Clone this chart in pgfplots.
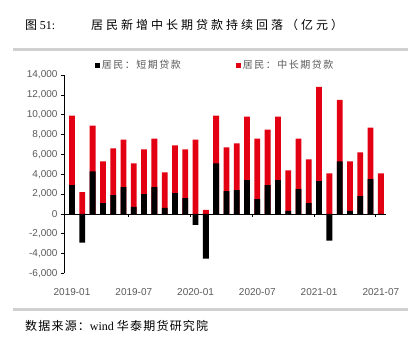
\documentclass[border=0pt]{standalone}
\usepackage{pgfplots}
\usepackage{pgfplotstable}
\pgfplotsset{compat=1.18}
\usepackage{fontspec}
\setmainfont{Liberation Serif}
\newfontfamily\numfont{Liberation Sans}
\newfontfamily\song{Noto Sans CJK SC}
\newfontfamily\songsrc[LetterSpace=10]{Noto Sans CJK SC}
\newfontfamily\songtitle[LetterSpace=25]{Noto Sans CJK SC}
\newfontfamily\songleg[LetterSpace=15]{Noto Sans CJK SC}
\definecolor{barred}{RGB}{226,0,18}
\definecolor{txtgray}{RGB}{89,89,89}
\definecolor{linegray}{RGB}{208,208,208}

% x: month index from 2019-01; st: short-term; lt: medium/long-term (100 million yuan)
\pgfplotstableread{
x st lt
0 2900 7000
1 -2900 2200
2 4300 4600
3 1100 4200
4 1900 4700
5 2700 4800
6 700 4400
7 2000 4500
8 2700 4900
9 600 3600
10 2100 4800
11 1600 4900
12 -1100 7500
13 -4500 400
14 5100 4800
15 2300 4400
16 2400 4700
17 3400 6400
18 1500 6100
19 2900 5600
20 3400 6400
21 300 4100
22 2500 5100
23 1100 4400
24 3300 9500
25 -2700 4100
26 5300 6200
27 300 5000
28 1800 4400
29 3500 5200
30 -100 4100
}\loandata

\begin{document}
\begin{tikzpicture}
\path[use as bounding box] (0pt,0pt) rectangle (408pt,340pt);
% title
\node[anchor=west, inner sep=0pt] at (25pt,315pt) {\song\fontsize{12}{14}\selectfont 图 \rmfamily 51:};
\node[anchor=west, inner sep=0pt] at (91pt,315pt) {\songtitle\fontsize{12}{14}\selectfont 居民新增中长期贷款持续回落（亿元）};
\draw[linegray, line width=3pt] (13pt,290pt) -- (408pt,290pt);
\draw[linegray, line width=3pt] (13pt,30pt) -- (408pt,30pt);
\node[anchor=west, inner sep=0pt] at (25pt,14pt) {\songsrc\fontsize{12}{14}\selectfont 数据来源：\rmfamily wind \songsrc 华泰期货研究院};

\begin{axis}[
  at={(64pt,66.5pt)}, anchor=south west,
  scale only axis, width=322pt, height=198.5pt,
  xmin=-0.78, xmax=30.5, ymin=-6000, ymax=14000,
  axis x line*=bottom, axis y line*=left,
  x axis line style={draw=none},
  y axis line style={black, line width=0.8pt},
  xtick={0,6,12,18,24,30},
  xticklabels={2019-01,2019-07,2020-01,2020-07,2021-01,2021-07},
  major x tick style={draw=none},
  ytick={-6000,-4000,...,14000},
  scaled y ticks=false,
  tick align=outside, major tick length=3pt,
  major y tick style={black, line width=0.6pt},
  yticklabel style={font=\numfont\fontsize{10}{12}\selectfont, text=txtgray,
    /pgf/number format/.cd, fixed, 1000 sep={,}, assume math mode=true},
  xticklabel style={font=\numfont\fontsize{10}{12}\selectfont, text=txtgray, yshift=-8pt},
  legend columns=2,
  reverse legend,
  legend style={draw=none, fill=none, at={(0.095,1.05)}, anchor=west,
    font=\songleg\fontsize{10}{12}\selectfont, text=txtgray, inner sep=0pt,
    /tikz/every even column/.append style={column sep=53pt}},
  clip=false,
]
\addplot[ybar, bar width=5.8pt, bar shift=0pt, fill=barred, draw=none,
  legend image code/.code={\fill[barred] (0pt,-2.5pt) rectangle (5pt,2.5pt);}]
  table[x=x, y expr={max(\thisrow{st},0)+\thisrow{lt}}] {\loandata};
\addlegendentry{居民：中长期贷款}
\addplot[ybar, bar width=5.8pt, bar shift=0pt, fill=black, draw=none,
  legend image code/.code={\fill[black] (0pt,-2.5pt) rectangle (5pt,2.5pt);}]
  table[x=x, y=st] {\loandata};
\addlegendentry{居民：短期贷款}
\draw[black, line width=0.8pt] (axis cs:-0.78,0) -- (axis cs:30.5,0);
\pgfplotsinvokeforeach{5.5,11.5,17.5,23.5,29.5}{
  \draw[black, line width=0.6pt] (axis cs:#1,0) -- ++(0pt,-3pt);
}
\end{axis}
\end{tikzpicture}
\end{document}
